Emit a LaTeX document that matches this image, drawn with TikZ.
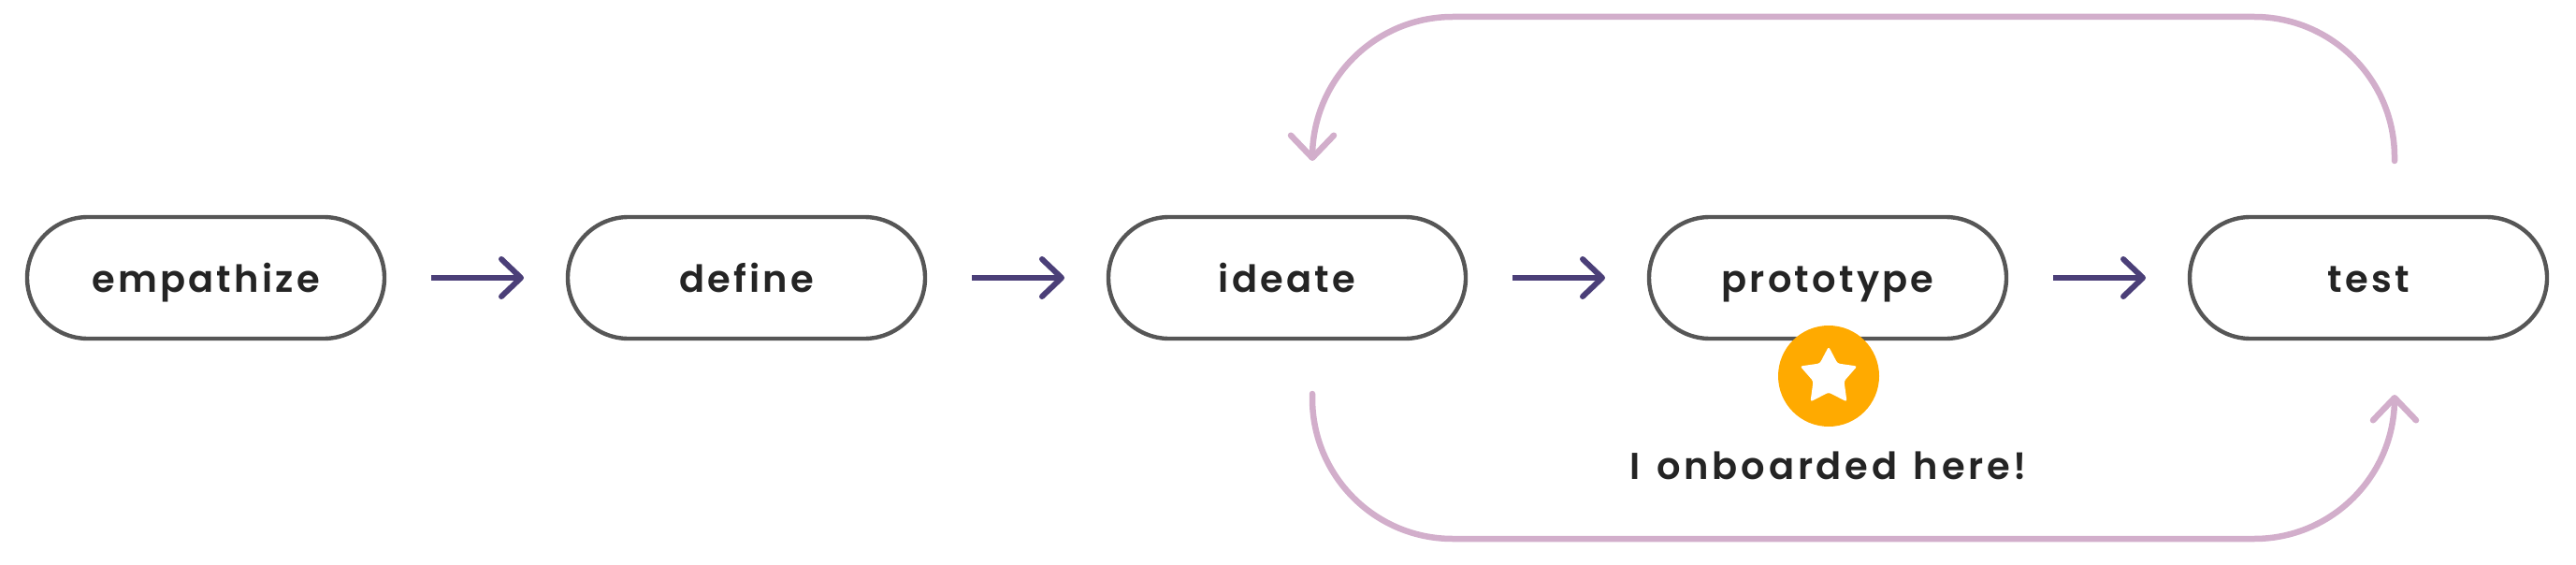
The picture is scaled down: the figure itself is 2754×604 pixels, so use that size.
\documentclass[tikz,border=0pt]{standalone}
\usepackage{fontspec}
\setmainfont{Poppins}
\newfontfamily\labelfont[LetterSpace=8]{Poppins SemiBold}
\newfontfamily\captionfont[LetterSpace=9.5,WordSpace=1.3]{Poppins SemiBold}
\usetikzlibrary{arrows.meta}
\definecolor{pillgray}{HTML}{565656}
\definecolor{flowpurple}{HTML}{4B3F78}
\definecolor{looppink}{HTML}{D2AECB}
\definecolor{badgeorange}{HTML}{FFAA00}
\definecolor{inkdark}{HTML}{242424}
\tikzset{
  pill/.style={draw=pillgray,line width=4.4pt,rectangle,rounded corners=65pt,minimum width=382pt,minimum height=130pt,inner sep=0pt,outer sep=0pt,text=inkdark,text height=40pt,text depth=10pt,font=\labelfont\fontsize{40}{40}\selectfont},
  flow/.style={draw=flowpurple,line width=6pt,shorten <=50pt,shorten >=47pt,-{Straight Barb[length=21pt,width=40pt,round]}},
  loopback/.style={draw=looppink,line width=6.5pt,line cap=round,rounded corners=150pt,-{Straight Barb[length=24pt,width=46pt,round]}},
  badge/.style={circle,fill=badgeorange,minimum size=108pt,inner sep=0pt,outer sep=0pt},
  caption/.style={text=inkdark,inner sep=0pt,anchor=base,font=\captionfont\fontsize{40}{40}\selectfont}
}
\begin{document}
\begin{tikzpicture}[x=1pt,y=-1pt]
\useasboundingbox (0,0) rectangle (2754,604);
\node[pill] (empathize) at (220,297) {empathize};
\node[pill] (define) at (798,297) {define};
\node[pill] (ideate) at (1376,297) {ideate};
\node[pill] (prototype) at (1954,297) {prototype};
\node[pill] (test) at (2532,297) {test};
\draw[flow] (empathize) -- (define);
\draw[flow] (define) -- (ideate);
\draw[flow] (ideate) -- (prototype);
\draw[flow] (prototype) -- (test);
\coordinate (testTop) at (2560,172);
\coordinate (ideateTop) at (1403,172);
\coordinate (ideateLow) at (1403,421);
\coordinate (testLow) at (2560,422);
\draw[loopback] (testTop) -- (2560,18) -- (1403,18) -- (ideateTop);
\draw[loopback] (ideateLow) -- (1403,576) -- (2560,576) -- (testLow);
\node[badge] (star) at (1955,402) {};
\fill[white,rounded corners=2.5pt] (1955,370.5) -- (1964.5,388.5) -- (1985.5,391.5) -- (1971.5,407.5) -- (1974.5,429.5) -- (1955,419.5) -- (1935.5,429.5) -- (1938.5,407.5) -- (1924.5,391.5) -- (1945.5,388.5) -- cycle;
\node[caption] (note) at (1955,512) {I onboarded here!};
\end{tikzpicture}
\end{document}
